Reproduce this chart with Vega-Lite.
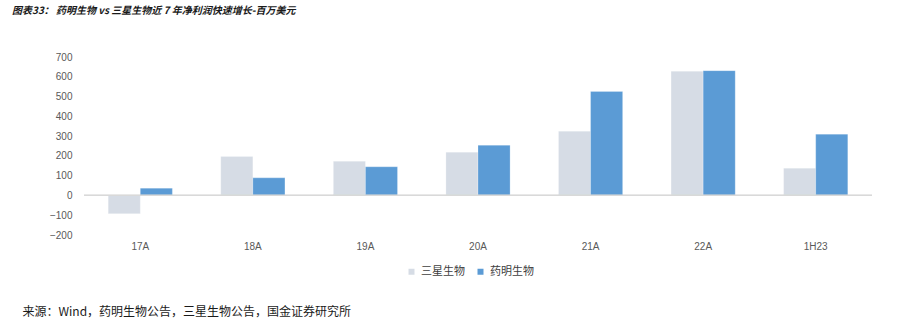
{
  "$schema": "https://vega.github.io/schema/vega-lite/v6.json",
  "width": 788,
  "height": 178,
  "autosize": {"type": "none"},
  "padding": {"left": 84, "top": 57, "right": 31, "bottom": 95},
  "background": "white",
  "config": {"view": {"stroke": null}},
  "title": {
    "text": "图表33： 药明生物 vs 三星生物近 7 年净利润快速增长-百万美元",
    "anchor": "start",
    "frame": "group",
    "dx": -72,
    "offset": 36,
    "font": "Noto Sans CJK SC",
    "fontSize": 10,
    "fontWeight": "bold",
    "fontStyle": "italic",
    "color": "#1a1a1a"
  },
  "data": {
    "values": [
      {"period": "17A", "company": "三星生物", "value": -92},
      {"period": "17A", "company": "药明生物", "value": 37},
      {"period": "18A", "company": "三星生物", "value": 197},
      {"period": "18A", "company": "药明生物", "value": 89},
      {"period": "19A", "company": "三星生物", "value": 173},
      {"period": "19A", "company": "药明生物", "value": 145},
      {"period": "20A", "company": "三星生物", "value": 219},
      {"period": "20A", "company": "药明生物", "value": 254},
      {"period": "21A", "company": "三星生物", "value": 325},
      {"period": "21A", "company": "药明生物", "value": 526},
      {"period": "22A", "company": "三星生物", "value": 628},
      {"period": "22A", "company": "药明生物", "value": 631},
      {"period": "1H23", "company": "三星生物", "value": 138},
      {"period": "1H23", "company": "药明生物", "value": 310}
    ]
  },
  "encoding": {
    "y": {
      "field": "value",
      "type": "quantitative",
      "scale": {"domain": [-200, 700], "nice": false},
      "axis": {
        "title": null,
        "values": [-200, -100, 0, 100, 200, 300, 400, 500, 600, 700],
        "tickCount": 10,
        "labelOverlap": false,
        "labelFont": "Liberation Sans",
        "labelFontSize": 10,
        "labelColor": "#595959",
        "labelPadding": 12,
        "ticks": false,
        "domain": false,
        "grid": false
      }
    }
  },
  "layer": [
    {
      "mark": {"type": "bar", "stroke": "#ffffff", "strokeOpacity": 0.4, "strokeWidth": 0.6},
      "encoding": {
        "x": {
          "field": "period",
          "type": "nominal",
          "sort": ["17A", "18A", "19A", "20A", "21A", "22A", "1H23"],
          "scale": {"paddingInner": 0.43, "paddingOuter": 0.215},
          "axis": {
            "title": "来源：Wind，药明生物公告，三星生物公告，国金证券研究所",
            "titleFont": "Noto Sans CJK SC",
            "titleFontSize": 12,
            "titleFontWeight": "normal",
            "titleColor": "#1a1a1a",
            "titleAnchor": "start",
            "titleAlign": "left",
            "titleBaseline": "middle",
            "titleX": -62,
            "titleY": 76,
            "labelAngle": 0,
            "labelFont": "Liberation Sans",
            "labelFontSize": 10,
            "labelColor": "#595959",
            "labelPadding": 6,
            "ticks": false,
            "domain": false,
            "grid": false
          }
        },
        "xOffset": {"field": "company", "type": "nominal", "sort": ["三星生物", "药明生物"]},
        "color": {
          "field": "company",
          "type": "nominal",
          "sort": ["三星生物", "药明生物"],
          "scale": {"domain": ["三星生物", "药明生物"], "range": ["#d6dce5", "#5b9bd5"]},
          "legend": {
            "title": null,
            "orient": "none",
            "direction": "horizontal",
            "legendX": 322,
            "legendY": 209,
            "symbolType": "square",
            "symbolSize": 36,
            "symbolStrokeWidth": 0,
            "labelFont": "Noto Sans CJK SC",
            "labelFontSize": 11,
            "labelColor": "#404040",
            "labelOffset": 4,
            "columnPadding": 10
          }
        }
      }
    },
    {
      "mark": {"type": "rule", "color": "#d9d9d9", "strokeWidth": 1},
      "encoding": {"y": {"datum": 0}}
    }
  ]
}
